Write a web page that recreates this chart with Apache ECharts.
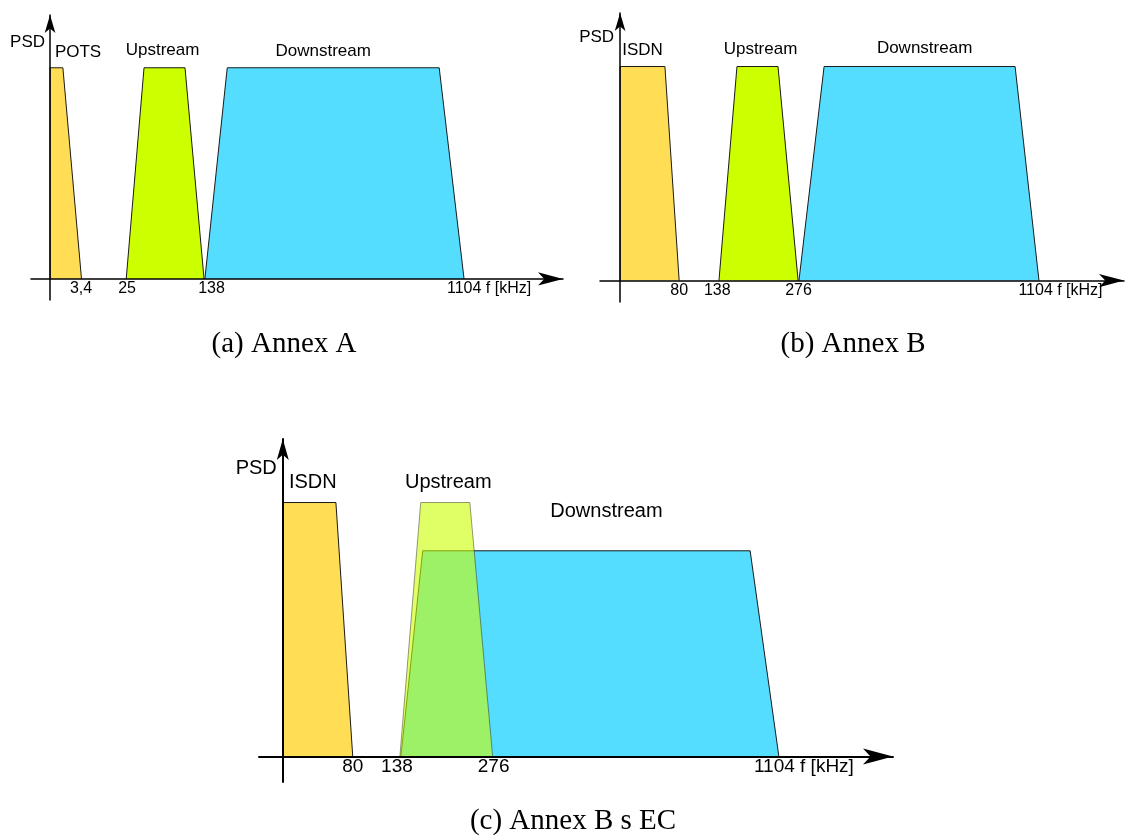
<!DOCTYPE html>
<html>
<head>
<meta charset="utf-8">
<script src="https://cdn.jsdelivr.net/npm/echarts@6/dist/echarts.min.js"></script>
<style>html,body{margin:0;padding:0;background:#fff}#chart{width:1126px;height:839px}</style>
</head>
<body>
<div id="chart"></div>
<script>
// ---- DATA (schematic frequency position: 1104 kHz edge = 100; PSD level: full = 1) ----
const annexA_bandNames = ['POTS', 'Upstream', 'Downstream'];
const annexA_POTS = [[0, 0], [0, 1], [3.1, 1], [7.6, 0]];
const annexA_Upstream = [[18.4, 0], [22.7, 1], [32.6, 1], [37.2, 0]];
const annexA_Downstream = [[37.4, 0], [42.8, 1], [94.0, 1], [100, 0]];
const annexA_tickPos = [7.5, 18.6, 39.0, 100];
const annexA_tickLabels = ['3,4', '25', '138', '1104'];

const annexB_bandNames = ['ISDN', 'Upstream', 'Downstream'];
const annexB_ISDN = [[0, 0], [0, 1], [10.7, 1], [14.1, 0]];
const annexB_Upstream = [[23.6, 0], [27.9, 1], [37.7, 1], [42.5, 0]];
const annexB_Downstream = [[42.7, 0], [48.7, 1], [94.3, 1], [100, 0]];
const annexB_tickPos = [14.1, 23.2, 42.6, 100];
const annexB_tickLabels = ['80', '138', '276', '1104'];

const annexBEC_bandNames = ['ISDN', 'Upstream', 'Downstream'];
const annexBEC_ISDN = [[0, 0], [0, 1], [10.7, 1], [14.1, 0]];
const annexBEC_Upstream = [[23.6, 0], [27.8, 1], [37.7, 1], [42.3, 0]];
const annexBEC_Downstream = [[23.8, 0], [28.2, 0.81], [94.2, 0.81], [100, 0]];
const annexBEC_tickPos = [14.1, 23.0, 42.5, 100];
const annexBEC_tickLabels = ['80', '138', '276', '1104'];

const yAxisName = 'PSD';
const xAxisUnit = 'f [kHz]';
const captions = ['(a) Annex A', '(b) Annex B', '(c) Annex B s EC'];

// ---- LAYOUT / STYLE ----
const FONT = '"Liberation Sans", Arial, sans-serif';
const SERIF = '"Liberation Serif", "Times New Roman", serif';
const bandColors = ['#ffdd55', '#ccff00', '#55ddff'];
const Y_MIN = -0.1, Y_MAX = 1.25;

const panels = [
  { bands: [annexA_POTS, annexA_Upstream, annexA_Downstream], names: annexA_bandNames,
    tickPos: annexA_tickPos, tickLabels: annexA_tickLabels,
    grid: { left: 31, top: 15, width: 532, height: 285 }, xMin: -4.6, xMax: 123.9,
    axisW: 1.5, xArrow: [10, 25], yArrow: [8, 18], bandFont: 17, tickFont: 16, tickMargin: 2,
    unitPad: 50, nameGap: -27, namePad: 5, nameFont: 17,
    labelOffsets: [[21.6, -15], [-2, -17], [-10, -16]], upOpacity: 1, caption: [284, 344] },
  { bands: [annexB_ISDN, annexB_Upstream, annexB_Downstream], names: annexB_bandNames,
    tickPos: annexB_tickPos, tickLabels: annexB_tickLabels,
    grid: { left: 600, top: 13, width: 524, height: 289 }, xMin: -4.8, xMax: 120.3,
    axisW: 1.5, xArrow: [10, 25], yArrow: [8, 18], bandFont: 17, tickFont: 16, tickMargin: 2,
    unitPad: 43, nameGap: -24, namePad: 6, nameFont: 17,
    labelOffsets: [[0, -16], [3, -17], [5, -18]], upOpacity: 1, caption: [853, 344] },
  { bands: [annexBEC_ISDN, annexBEC_Upstream, annexBEC_Downstream], names: annexBEC_bandNames,
    tickPos: annexBEC_tickPos, tickLabels: annexBEC_tickLabels,
    grid: { left: 259, top: 439, width: 634, height: 343 }, xMin: -4.8, xMax: 123.0,
    axisW: 2, xArrow: [12, 30], yArrow: [9, 21], bandFont: 20, tickFont: 19, tickMargin: 1,
    unitPad: 50, nameGap: -29, namePad: 6, nameFont: 20,
    labelOffsets: [[3.5, -20], [3, -20], [20, -39]], upOpacity: 0.6, caption: [573, 821] }
];

const grids = [], xAxes = [], yAxes = [], series = [], graphics = [];

panels.forEach((p, i) => {
  grids.push(Object.assign({ containLabel: false, outerBoundsMode: 'none' }, p.grid));
  // labels are laid out from the grid's bottom edge; pull them up to the zero line
  const zeroLift = p.grid.height * (0 - Y_MIN) / (Y_MAX - Y_MIN);
  xAxes.push({
    gridIndex: i, type: 'value', min: p.xMin, max: p.xMax, z: 5,
    axisLine: { onZero: true, lineStyle: { color: '#000', width: p.axisW },
      symbol: ['none', 'arrow'], symbolSize: p.xArrow },
    axisTick: { show: false }, splitLine: { show: false },
    axisLabel: {
      customValues: p.tickPos, color: '#000', fontFamily: FONT, fontSize: p.tickFont,
      margin: p.tickMargin - zeroLift,
      formatter: (v) => {
        const k = p.tickPos.indexOf(v);
        const lab = k >= 0 ? p.tickLabels[k] : '';
        return k === p.tickPos.length - 1 ? '{n|' + lab + '}{u| ' + xAxisUnit + '}' : lab;
      },
      rich: {
        n: { fontFamily: FONT, fontSize: p.tickFont, color: '#000', padding: [0, 0, 0, p.unitPad] },
        u: { fontFamily: FONT, fontSize: p.tickFont, color: '#000' }
      }
    }
  });
  yAxes.push({
    gridIndex: i, type: 'value', min: Y_MIN, max: Y_MAX, z: 5,
    axisLine: { onZero: true, lineStyle: { color: '#000', width: p.axisW },
      symbol: ['none', 'arrow'], symbolSize: p.yArrow },
    axisTick: { show: false }, splitLine: { show: false }, axisLabel: { show: false },
    name: yAxisName, nameLocation: 'end', nameGap: p.nameGap, nameMoveOverlap: false,
    nameTextStyle: { fontFamily: FONT, fontSize: p.nameFont, color: '#000', align: 'right',
      verticalAlign: 'middle', padding: [0, p.namePad, 0, 0] }
  });
  p.bands.forEach((band, j) => {
    const isUp = j === 1;
    series.push({
      type: 'line', name: p.names[j], xAxisIndex: i, yAxisIndex: i, data: band,
      symbol: 'none', showSymbol: false, silent: true, animation: false, z: isUp ? 3 : 2,
      lineStyle: { color: '#1a1a1a', width: 1, opacity: isUp && p.upOpacity < 1 ? 0.45 : 1 },
      areaStyle: { color: bandColors[j], opacity: isUp ? p.upOpacity : 1 }
    });
  });
  series.push({
    type: 'scatter', xAxisIndex: i, yAxisIndex: i, symbolSize: 0, silent: true, animation: false, z: 6,
    itemStyle: { opacity: 1 },
    data: p.bands.map((band, j) => ({
      name: p.names[j],
      value: [(band[1][0] + band[2][0]) / 2, band[1][1]],
      label: { offset: p.labelOffsets[j] }
    })),
    label: { show: true, position: 'inside', formatter: '{b}', color: '#000', opacity: 1,
      textBorderWidth: 0, textBorderColor: 'transparent',
      fontFamily: FONT, fontSize: p.bandFont }
  });
  graphics.push({
    type: 'text', x: p.caption[0], y: p.caption[1], silent: true,
    style: { text: captions[i], font: '29px ' + SERIF, fill: '#000',
      textAlign: 'center', textVerticalAlign: 'middle' }
  });
});

const chart = echarts.init(document.getElementById('chart'), null, { renderer: 'canvas' });
chart.setOption({
  backgroundColor: '#fff',
  animation: false,
  grid: grids, xAxis: xAxes, yAxis: yAxes, series: series, graphic: graphics
});
</script>
</body>
</html>
